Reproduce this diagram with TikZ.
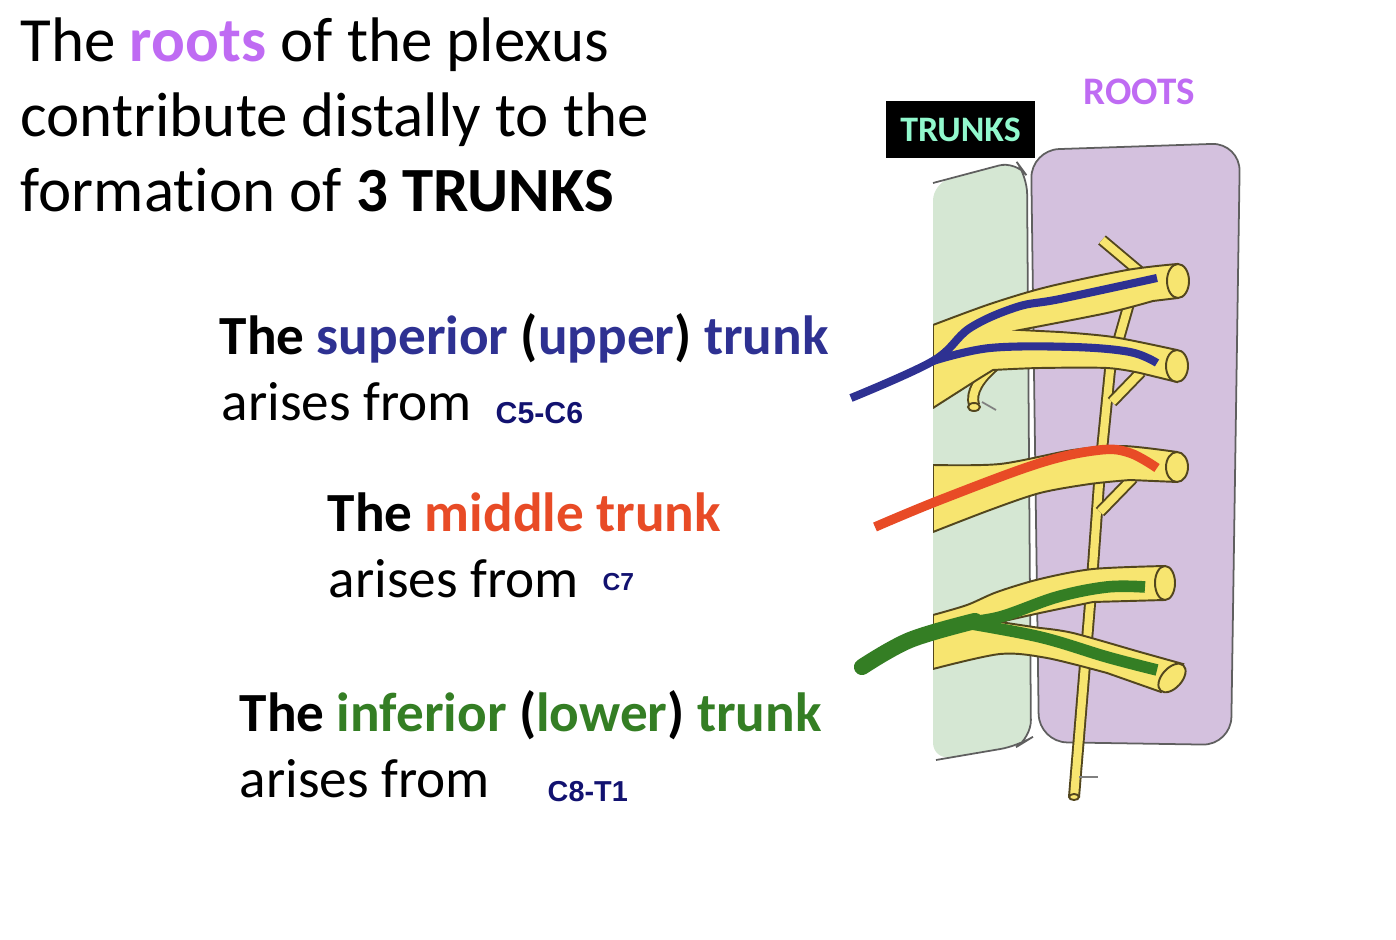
\documentclass[tikz,border=0pt]{standalone}
\usepackage{fontspec}
\setmainfont{Carlito}[Ligatures=CommonOff]
\newfontfamily\segfont{Liberation Sans}
\usepackage{tikz}

\definecolor{rootpurple}{RGB}{191,107,243}
\definecolor{supblue}{RGB}{46,49,146}
\definecolor{midred}{RGB}{232,75,38}
\definecolor{infgreen}{RGB}{52,126,36}
\definecolor{segnavy}{RGB}{18,18,112}
\definecolor{trunkmint}{RGB}{145,248,205}
\definecolor{trunkbg}{RGB}{213,231,211}
\definecolor{rootbg}{RGB}{212,193,222}
\definecolor{panelline}{RGB}{95,95,95}
\definecolor{nervefill}{RGB}{247,229,112}
\definecolor{nerveline}{RGB}{82,70,30}

\tikzset{
  headline/.style={anchor=base west, inner sep=0pt, font=\fontsize{17.9}{21}\selectfont},
  ariseline/.style={anchor=base west, inner sep=0pt, font=\fontsize{15.7}{18}\selectfont},
  trunkline/.style={anchor=base west, inner sep=0pt, font=\fontsize{15.7}{18}\selectfont\bfseries},
  segment/.style={anchor=base west, inner sep=0pt, text=segnavy, font=\fontsize{8.6}{9}\selectfont\segfont\bfseries},
  panel/.style={draw=panelline, line width=0.5pt, rounded corners=8pt},
  nerve/.style={fill=nervefill, draw=nerveline, line width=0.55pt},
  twig/.style={draw=nerveline, double=nervefill, double distance=2.3pt, line width=0.55pt},
  cylend/.style={fill=nervefill, draw=nerveline, line width=0.55pt},
  tickline/.style={draw=gray, line width=0.5pt},
  supline/.style={draw=supblue, line width=2.3pt},
  midline/.style={draw=midred, line width=2.7pt},
  infline/.style={draw=infgreen, line width=3.3pt}
}

\begin{document}
\begin{tikzpicture}[x=0.01cm,y=-0.01cm]
\useasboundingbox (0,0) rectangle (1396,940);

% heading
\node[headline] (head1) at (20,62) {The \textbf{\textcolor{rootpurple}{roots}} of the plexus};
\node[headline] (head2) at (20,137) {contribute distally to the};
\node[headline] (head3) at (20,212) {formation of \textbf{3 TRUNKS}};

% superior trunk
\node[trunkline] (suphead) at (219,355) {The \textcolor{supblue}{superior} (\textcolor{supblue}{upper}) \textcolor{supblue}{trunk}};
\node[ariseline] (suparise) at (221,421) {arises from};
\node[segment] (supseg) at (495,424) {C5-C6};

% middle trunk
\node[trunkline] (midhead) at (327,532) {The \textcolor{midred}{middle trunk}};
\node[ariseline] (midarise) at (328,598) {arises from};
\node[segment, font=\fontsize{7}{8}\selectfont\segfont\bfseries] (midseg) at (602,591) {C7};

% inferior trunk
\node[trunkline] (infhead) at (239,732) {The \textcolor{infgreen}{inferior} (\textcolor{infgreen}{lower}) \textcolor{infgreen}{trunk}};
\node[ariseline] (infarise) at (239,798) {arises from};
\node[segment, font=\fontsize{8.2}{9}\selectfont\segfont\bfseries] (infseg) at (547,802) {C8-T1};

% panels
\fill[trunkbg, rounded corners=5pt] (933,183) -- (1016,161) -- (1027,176) -- (1031,738) -- (1018,746) -- (933,760) -- cycle;
\draw[panel, rounded corners=5pt] (933,183) -- (1016,161) -- (1027,176) -- (1031,738) -- (1018,746) -- (936,760);
\filldraw[panel, fill=rootbg] (1039,742) -- (1031,150) -- (1240,143) -- (1231,745) -- cycle;
\node[fill=black, text=trunkmint, minimum width=42.4pt, minimum height=16.2pt, inner sep=0pt,
  font=\fontsize{10.2}{12}\selectfont\bfseries] (trunkstag) at (960.5,129.5) {TRUNKS};
\node[anchor=base west, inner sep=0pt, text=rootpurple, font=\fontsize{11.1}{13}\selectfont\bfseries] (rootstag) at (1083,105) {ROOTS};

\begin{scope}
\clip (933,0) rectangle (1396,940);
% chain and small branches
\draw[twig] (1130,300) -- (1110,370) -- (1100,470) -- (1092,580) -- (1074,797);
\draw[twig] (1102,240) -- (1140,272);
\draw[twig] (1112,402) -- (1141,372);
\draw[twig] (1100,512) -- (1133,478);
\draw[twig] (994,366) .. controls (980,378) and (970,392) .. (974,405);
\filldraw[cylend] (974,407) ellipse [x radius=6, y radius=4];
\filldraw[cylend] (1074,797) ellipse [x radius=5, y radius=3];
\draw[tickline] (982,402) -- (996,410);
\draw[tickline] (1079,777) -- (1098,777);
% upper trunk, C5 and C6
\filldraw[nerve] plot[smooth, tension=0.5] coordinates {(933,325) (990,304) (1047,287) (1127,270) (1177,264)}
  -- (1178,298) -- plot[smooth, tension=0.5] coordinates {(1153,301) (1107,313) (1020,330)}
  -- plot[smooth, tension=0.5] coordinates {(1060,332) (1113,337) (1177,350)}
  -- (1177,382) -- plot[smooth, tension=0.5] coordinates {(1140,373) (1107,368) (1040,368) (993,370)}
  -- (980,378) -- (933,408) -- cycle;
% middle trunk, C7
\filldraw[nerve] plot[smooth, tension=0.5] coordinates {(933,465) (1000,464) (1073,450) (1123,446) (1177,452)}
  -- (1177,482) -- plot[smooth, tension=0.5] coordinates {(1130,480) (1090,484) (1040,493) (990,510) (933,532)} -- cycle;
% lower trunk, C8 and T1
\filldraw[nerve] plot[smooth, tension=0.5] coordinates {(933,615) (967,605) (997,592) (1040,579) (1093,569) (1165,566)}
  -- (1165,600) -- plot[smooth, tension=0.5] coordinates {(1093,602) (1040,613) (1000,622)}
  -- plot[smooth, tension=0.5] coordinates {(1040,628) (1073,633) (1140,652) (1183,664)}
  -- (1161,692) -- plot[smooth, tension=0.5] coordinates {(1107,673) (1047,658) (1000,654) (933,669)} -- cycle;
% cut ends of the roots
\filldraw[cylend] (1178,281) ellipse [x radius=11, y radius=17];
\filldraw[cylend] (1177,366) ellipse [x radius=11, y radius=16];
\filldraw[cylend] (1177,467) ellipse [x radius=11, y radius=15];
\filldraw[cylend] (1165,583) ellipse [x radius=10, y radius=17];
\filldraw[cylend, rotate around={-42:(1172,678)}] (1172,678) ellipse [x radius=10, y radius=17];
\end{scope}

% coloured tracings
\draw[supline] plot[smooth, tension=0.6] coordinates {(851,398) (933,361) (970,328) (1017,307) (1060,299) (1157,278)};
\draw[supline] plot[smooth, tension=0.6] coordinates {(933,361) (990,348) (1073,347) (1130,352) (1157,363)};
\draw[midline] plot[smooth, tension=0.6] coordinates {(875,527) (940,500) (1040,463) (1100,450) (1130,453) (1157,468)};
\draw[infline, line width=4.6pt, line cap=round] plot[smooth, tension=0.6] coordinates {(862,667) (910,640) (975,621)};
\draw[infline] plot[smooth, tension=0.6] coordinates {(960,623) (1000,617) (1057,597) (1107,587) (1145,587)};
\draw[infline] plot[smooth, tension=0.6] coordinates {(960,622) (1040,637) (1107,657) (1157,670)};
\end{tikzpicture}
\end{document}
